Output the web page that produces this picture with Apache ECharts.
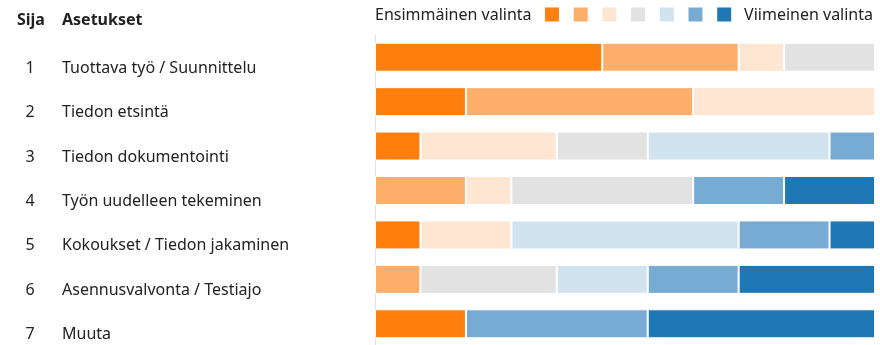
<!DOCTYPE html>
<html>
<head>
<meta charset="utf-8">
<script src="https://cdn.jsdelivr.net/npm/echarts@6/dist/echarts.min.js"></script>
<style>
  html, body { margin: 0; padding: 0; background: #fff; }
  #chart { width: 880px; height: 345px; }
</style>
</head>
<body>
<div id="chart"></div>
<script>
// Options, top to bottom
const categories = [
  'Tuottava työ / Suunnittelu',
  'Tiedon etsintä',
  'Tiedon dokumentointi',
  'Työn uudelleen tekeminen',
  'Kokoukset / Tiedon jakaminen',
  'Asennusvalvonta / Testiajo',
  'Muuta'
];
const ranks = ['1', '2', '3', '4', '5', '6', '7'];

// Number of respondents who put each option at a given position (1 = first choice ... 7 = last)
const choiceNames = ['Valinta 1', 'Valinta 2', 'Valinta 3', 'Valinta 4', 'Valinta 5', 'Valinta 6', 'Valinta 7'];
const choice1 = [5, 2, 1, 0, 1, 0, 2];
const choice2 = [3, 5, 0, 2, 0, 1, 0];
const choice3 = [1, 4, 3, 1, 2, 0, 0];
const choice4 = [2, 0, 2, 4, 0, 3, 0];
const choice5 = [0, 0, 4, 0, 5, 2, 0];
const choice6 = [0, 0, 1, 2, 2, 2, 4];
const choice7 = [0, 0, 0, 2, 1, 3, 5];
const respondents = 11;

const firstLabel = 'Ensimmäinen valinta';
const lastLabel = 'Viimeinen valinta';
const headerRank = 'Sija';
const headerOption = 'Asetukset';

const palette = ['#ff7f0e', '#fdae6b', '#fee6d2', '#e2e2e2', '#d2e3f0', '#78abd3', '#1f77b4'];
const FONT = '"Noto Sans", "Open Sans", sans-serif';
const TEXT = '#222';

const values = [choice1, choice2, choice3, choice4, choice5, choice6, choice7];

const chart = echarts.init(document.getElementById('chart'), null, { renderer: 'canvas' });

chart.setOption({
  animation: false,
  backgroundColor: '#fff',
  textStyle: { fontFamily: FONT, color: TEXT },
  grid: { left: 375, right: 5, top: 35, height: 311, containLabel: false, outerBoundsMode: 'none' },
  legend: {
    data: choiceNames,
    left: 545,
    top: 7.5,
    padding: 0,
    itemWidth: 14,
    itemHeight: 14,
    itemGap: 14.7,
    icon: 'rect',
    itemStyle: { borderWidth: 0 },
    selectedMode: false,
    formatter: () => '',
    textStyle: { fontSize: 1 }
  },
  xAxis: {
    type: 'value',
    min: 0,
    max: respondents,
    show: false
  },
  yAxis: {
    type: 'category',
    inverse: true,
    data: categories,
    axisLine: { show: true, lineStyle: { color: '#dde3ea', width: 1 } },
    axisTick: { show: false },
    axisLabel: {
      margin: 358,
      align: 'left',
      verticalAlign: 'top',
      formatter: (v, i) => `{n|${ranks[i]}}{t|${v}}`,
      rich: {
        n: { width: 26, align: 'center', fontSize: 16, fontFamily: FONT, color: TEXT, lineHeight: 22 },
        t: { padding: [0, 0, 0, 19], fontSize: 16, fontFamily: FONT, color: TEXT, lineHeight: 22 }
      }
    }
  },
  graphic: [
    { type: 'text', left: 17, top: 12, style: { text: headerRank, font: `bold 16px ${FONT}`, fill: TEXT } },
    { type: 'text', left: 62, top: 12, style: { text: headerOption, font: `bold 16px ${FONT}`, fill: TEXT } },
    { type: 'text', left: 375, top: 7, style: { text: firstLabel, font: `16px ${FONT}`, fill: TEXT } },
    { type: 'text', right: 7, top: 7, style: { text: lastLabel, font: `16px ${FONT}`, fill: TEXT } }
  ],
  series: values.map((arr, k) => ({
    name: choiceNames[k],
    type: 'bar',
    stack: 'rank',
    data: arr,
    barWidth: 29,
    itemStyle: { color: palette[k], borderColor: '#fff', borderWidth: 1 },
    emphasis: { disabled: true }
  }))
});
</script>
</body>
</html>
